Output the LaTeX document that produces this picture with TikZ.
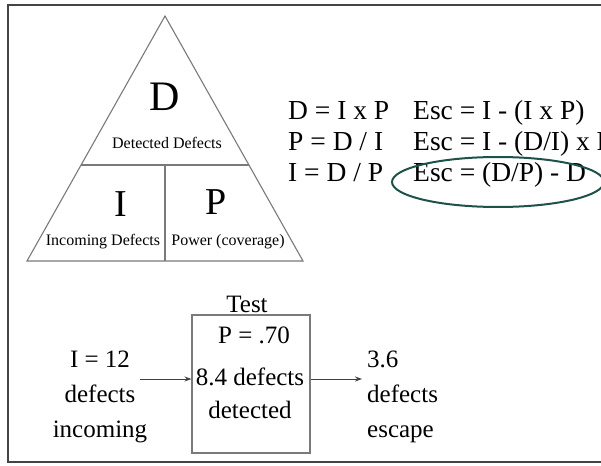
\documentclass[tikz,border=0pt]{standalone}
\usepackage{fontspec}
\setmainfont{Liberation Serif}
\definecolor{framegray}{HTML}{444444}
\definecolor{linegray}{HTML}{7A7A7A}
\definecolor{ringteal}{HTML}{1E5248}
\usetikzlibrary{arrows.meta}
\tikzset{
  px/.style={x=1pt,y=-1pt},
  bigletter/.style={inner sep=0pt, font=\fontsize{38}{40}\selectfont},
  caption/.style={inner sep=0pt, font=\fontsize{16}{18}\selectfont},
  eqtext/.style={inner sep=0pt, anchor=base west, font=\fontsize{27.5}{30}\selectfont},
  flowtext/.style={inner sep=0pt, anchor=base, font=\fontsize{25}{35}\selectfont, align=center},
  part/.style={draw=linegray, line width=1.1pt},
  flow/.style={draw=black!75, line width=1pt, -{Stealth[length=7pt,width=5pt]}},
}
\begin{document}
\begin{tikzpicture}[px]
\useasboundingbox (0,0) rectangle (601,465);
\clip (0,0) rectangle (601,465);
\fill[white] (0,0) rectangle (601,465);
% outer frame (open on the right)
\draw[framegray, line width=2pt] (605,5) -- (8,5) -- (8,462) -- (605,462);

% triangle of D, I, P
\coordinate (apex) at (165,16);
\coordinate (bl) at (27,261);
\coordinate (br) at (303,261);
\coordinate (ml) at (81.1,165);
\coordinate (mr) at (248.9,165);
\coordinate (mc) at (165,165);
\coordinate (bc) at (165,261);
\draw[part, line join=miter] (apex) -- (bl) -- (br) -- cycle;
\draw[part] (ml) -- (mr);
\draw[part] (mc) -- (bc);
\node[bigletter, font=\fontsize{42}{44}\selectfont] (D) at (165,97) {D};
\node[caption] (Dcap) at (167,143) {Detected Defects};
\node[bigletter] (I) at (121,204) {I};
\node[bigletter] (P) at (216,202) {P};
\node[caption] (Icap) at (103,242) {Incoming Defects};
\node[caption] (Pcap) at (228,242) {Power (coverage)};

% formulas
\node[eqtext] (e1) at (288,120) {D = I x P};
\node[eqtext] (e2) at (288,150) {P = D / I};
\node[eqtext] (e3) at (288,181) {I = D / P};
\node[eqtext] (s1) at (413,120) {Esc = I - (I x P)};
\node[eqtext] (s2) at (413,150) {Esc = I - (D/I) x P};
\node[eqtext] (s3) at (413,181) {Esc = (D/P) - D};
\draw[ringteal, line width=2pt] (498,182) ellipse [x radius=106, y radius=25];

% test stage
\node[draw=linegray, line width=1.1pt, minimum width=118pt, minimum height=138pt, inner sep=0pt] (test) at (251,384) {};
\node[flowtext] (tlabel) at (247,312) {Test};
\node[flowtext] (pval) at (254,343) {P = .70};
\node[flowtext, font=\fontsize{25}{33}\selectfont] (found) at (250,418) {8.4 defects\\detected};
\node[flowtext] (inc) at (100,437) {I = 12\\defects\\incoming};
\node[flowtext, anchor=base west, align=left] (esc) at (367,437) {3.6\\defects\\escape};
\coordinate (ain) at (140,379);
\coordinate (aout) at (362,379);
\draw[flow] (ain) -- (ain -| test.west);
\draw[flow] (aout -| test.east) -- (aout);
\end{tikzpicture}
\end{document}
